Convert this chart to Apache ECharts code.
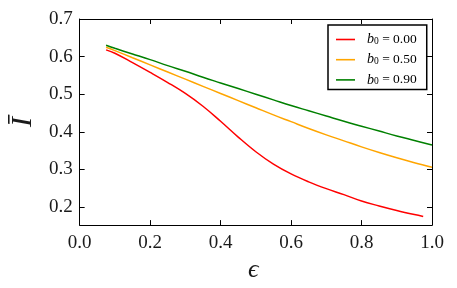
<!DOCTYPE html>
<html>
<head>
<meta charset="utf-8">
<script src="https://cdn.jsdelivr.net/npm/echarts@6/dist/echarts.min.js"></script>
<style>
html,body{margin:0;padding:0;background:#fff;}
#c{width:457px;height:288px;}
</style>
</head>
<body>
<div id="c"></div>
<script>
// Data
const epsA = [0.075,0.1,0.15,0.2,0.25,0.3,0.35,0.4,0.45,0.5,0.55,0.6,0.65,0.7,0.75,0.8,0.85,0.9,0.95,1.0];
const epsRed = [0.075,0.1,0.15,0.2,0.25,0.3,0.35,0.4,0.45,0.5,0.55,0.6,0.65,0.7,0.75,0.8,0.85,0.9,0.95,0.975];
const iRed    = [0.618,0.609,0.584,0.558,0.531,0.502,0.468,0.428,0.386,0.347,0.314,0.288,0.267,0.249,0.233,0.216,0.203,0.191,0.180,0.175];
const iOrange = [0.625,0.616,0.597,0.578,0.559,0.540,0.521,0.502,0.483,0.464,0.445,0.427,0.409,0.392,0.376,0.360,0.345,0.331,0.318,0.306];
const iGreen  = [0.630,0.622,0.607,0.592,0.576,0.561,0.545,0.530,0.515,0.500,0.485,0.470,0.456,0.442,0.428,0.415,0.402,0.389,0.377,0.365];
const seriesNames = ['b0 = 0.00','b0 = 0.50','b0 = 0.90'];
const legendLabels = ['0.00','0.50','0.90'];
const yTicks = [0.2,0.3,0.4,0.5,0.6,0.7];

const serif = '"Liberation Serif", "DejaVu Serif", serif';
const pair = (xs, ys) => xs.map((x, i) => [x, ys[i]]);
const X_MIN = 0, X_MAX = 1, Y_MIN = 0.152, Y_MAX = 0.7;

const chart = echarts.init(document.getElementById('c'), null, {renderer: 'canvas'});
const axisLine = {show: true, onZero: false, lineStyle: {color: '#000', width: 1}};
const tick = {show: true, inside: true, length: 5, lineStyle: {color: '#000', width: 1}};

chart.setOption({
  animation: false,
  backgroundColor: '#fff',
  grid: {left: 77.5, right: 25, top: 19, bottom: 55, containLabel: false},
  legend: {
    orient: 'vertical',
    left: 328, top: 25,
    padding: [7, 10, 2, 8],
    icon: 'rect',
    itemWidth: 19, itemHeight: 1.6, itemGap: 5.2,
    borderColor: '#000', borderWidth: 1.5, backgroundColor: '#fff',
    data: seriesNames,
    formatter: function (name) {
      const k = seriesNames.indexOf(name);
      return '{i|b}{s|0}{n| = ' + legendLabels[k] + '}';
    },
    textStyle: {
      padding: [0, 0, 0, 7],
      fontFamily: serif, fontSize: 13.5, color: '#000', lineHeight: 15,
      rich: {
        i: {fontFamily: serif, fontStyle: 'italic', fontSize: 14, color: '#000', lineHeight: 15},
        s: {fontFamily: serif, fontSize: 9.5, color: '#000', lineHeight: 15, padding: [4, 0, 0, 0]},
        n: {fontFamily: serif, fontSize: 13.5, color: '#000', lineHeight: 15}
      }
    }
  },
  xAxis: [{
    type: 'value', min: X_MIN, max: X_MAX, interval: 0.2,
    axisLine: axisLine, axisTick: tick, splitLine: {show: false},
    axisLabel: {fontFamily: serif, fontSize: 19, color: '#1a1a1a', margin: 8,
      formatter: v => v.toFixed(1)},
    name: 'ϵ', nameLocation: 'middle', nameGap: 22,
    nameTextStyle: {fontFamily: serif, fontStyle: 'italic', fontSize: 26, color: '#1a1a1a', padding: [0, 5, 0, 0]}
  }, {
    type: 'value', position: 'top', min: X_MIN, max: X_MAX, interval: 0.2,
    axisLine: axisLine, axisTick: tick, splitLine: {show: false}, axisLabel: {show: false}
  }],
  yAxis: [{
    type: 'value', min: Y_MIN, max: Y_MAX,
    axisLine: axisLine, splitLine: {show: false},
    axisTick: Object.assign({customValues: yTicks}, tick),
    axisLabel: {customValues: yTicks, fontFamily: serif, fontSize: 19, color: '#1a1a1a', margin: 7,
      formatter: v => v.toFixed(1)},
    name: 'I\u0304', nameLocation: 'middle', nameGap: 40, nameRotate: 90,
    nameTextStyle: {fontFamily: serif, fontStyle: 'italic', fontSize: 30, color: '#1a1a1a'}
  }, {
    type: 'value', position: 'right', min: Y_MIN, max: Y_MAX,
    axisLine: axisLine, splitLine: {show: false},
    axisTick: Object.assign({customValues: yTicks}, tick),
    axisLabel: {show: false}
  }],
  series: [
    {name: seriesNames[0], type: 'line', data: pair(epsRed, iRed), smooth: 0.4, symbol: 'none',
      lineStyle: {color: '#ff0000', width: 1.5}, itemStyle: {color: '#ff0000'}},
    {name: seriesNames[1], type: 'line', data: pair(epsA, iOrange), smooth: 0.4, symbol: 'none',
      lineStyle: {color: '#ffa500', width: 1.5}, itemStyle: {color: '#ffa500'}},
    {name: seriesNames[2], type: 'line', data: pair(epsA, iGreen), smooth: 0.4, symbol: 'none',
      lineStyle: {color: '#008000', width: 1.5}, itemStyle: {color: '#008000'}}
  ]
});
</script>
</body>
</html>
